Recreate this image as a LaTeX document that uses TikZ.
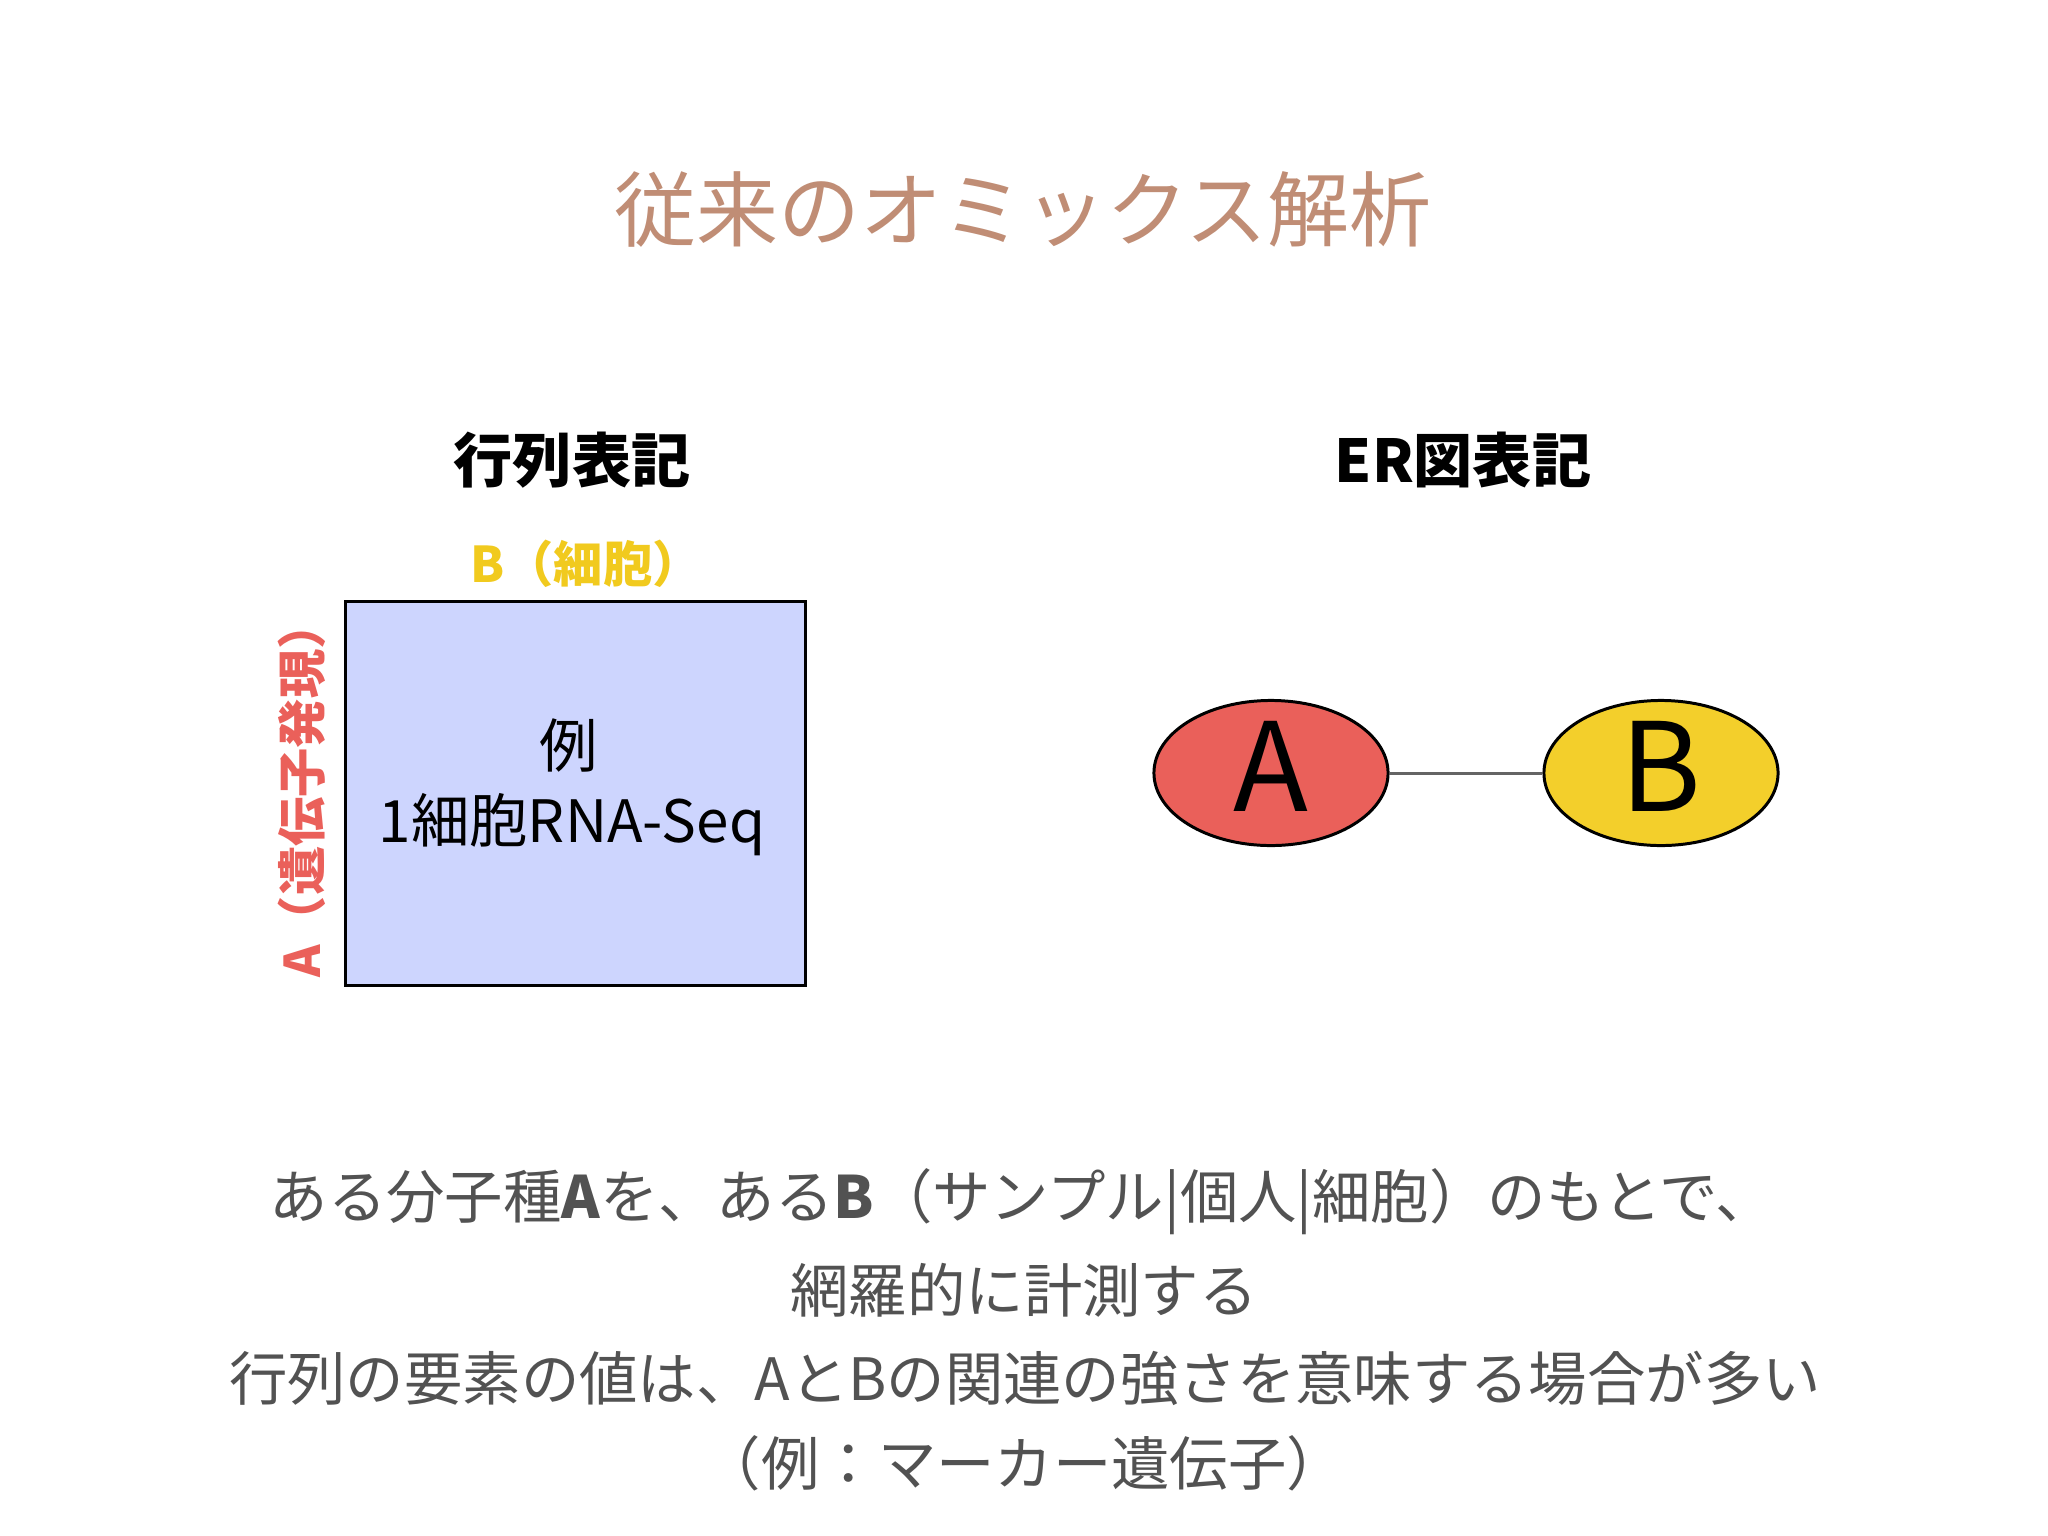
\documentclass[tikz,border=0pt]{standalone}
\usepackage{fontspec}
\setmainfont{Noto Sans CJK JP}
\usetikzlibrary{shapes.geometric}
\definecolor{titlecol}{RGB}{192,141,117}
\definecolor{boxfill}{RGB}{205,213,254}
\definecolor{redcol}{RGB}{234,96,90}
\definecolor{yelcol}{RGB}{243,207,43}
\definecolor{labyel}{RGB}{241,202,30}
\definecolor{graytxt}{RGB}{82,82,82}
\definecolor{linegray}{RGB}{100,100,100}
\tikzset{
  titlestyle/.style={inner sep=0pt, text=titlecol, font=\fontsize{23.3pt}{27pt}\selectfont},
  headstyle/.style={inner sep=0pt, text=black, font=\fontsize{16.8pt}{20pt}\selectfont\bfseries},
  ylab/.style={inner sep=0pt, text=labyel, font=\fontsize{14pt}{17pt}\selectfont\bfseries},
  rlab/.style={inner sep=0pt, text=redcol, font=\fontsize{14pt}{17pt}\selectfont\bfseries, rotate=90},
  matbox/.style={draw=black, line width=0.85pt, fill=boxfill, minimum width=4.59cm, minimum height=3.83cm, inner sep=0pt},
  boxtxt/.style={inner sep=0pt, text=black, font=\fontsize{16.6pt}{20pt}\selectfont},
  ellbase/.style={ellipse, draw=black, line width=0.85pt, minimum width=2.34cm, minimum height=1.45cm, inner sep=0pt},
  ellA/.style={ellbase, fill=redcol},
  ellB/.style={ellbase, fill=yelcol},
  biglet/.style={inner sep=0pt, anchor=base, text=black, font=\fontsize{35pt}{40pt}\selectfont},
  conn/.style={draw=linegray, line width=0.85pt},
  bodytxt/.style={inner sep=0pt, text=graytxt, font=\fontsize{16.6pt}{20pt}\selectfont}
}
\begin{document}
\begin{tikzpicture}[x=0.01cm,y=-0.01cm]
\fill[white] (0,0) rectangle (2048,1536);
\useasboundingbox (0,0) rectangle (2048,1536);
\node[titlestyle] (title) at (1023,209) {従来のオミックス解析};
\node[headstyle] (hmat) at (572,460) {行列表記};
\node[headstyle] (her) at (1463,460) {ER図表記};
\node[ylab] (blab) at (586,564) {B（細胞）};
\node[matbox] (mat) at (575.5,793.5) {};
\node[rlab] (alab) at (302,789) {A（遺伝子発現）};
\node[boxtxt] (ex1) at (569,745) {例};
\node[boxtxt] (ex2) at (572,825) {1細胞RNA-Seq};
\node[ellA] (ea) at (1271,773) {};
\node[ellB] (eb) at (1661,773) {};
\node[biglet] (ta) at (1271,811) {A};
\node[biglet] (tb) at (1661,811) {B};
\draw[conn] (ea) -- (eb);
\node[bodytxt] (l1) at (1022,1202) {ある分子種{\bfseries A}を、ある{\bfseries B}（サンプル|個人|細胞）のもとで、};
\node[bodytxt] (l2) at (1024,1290) {網羅的に計測する};
\node[bodytxt] (l3) at (1025,1378) {行列の要素の値は、AとBの関連の強さを意味する場合が多い};
\node[bodytxt] (l4) at (1024,1463) {（例：マーカー遺伝子）};
\end{tikzpicture}
\end{document}
